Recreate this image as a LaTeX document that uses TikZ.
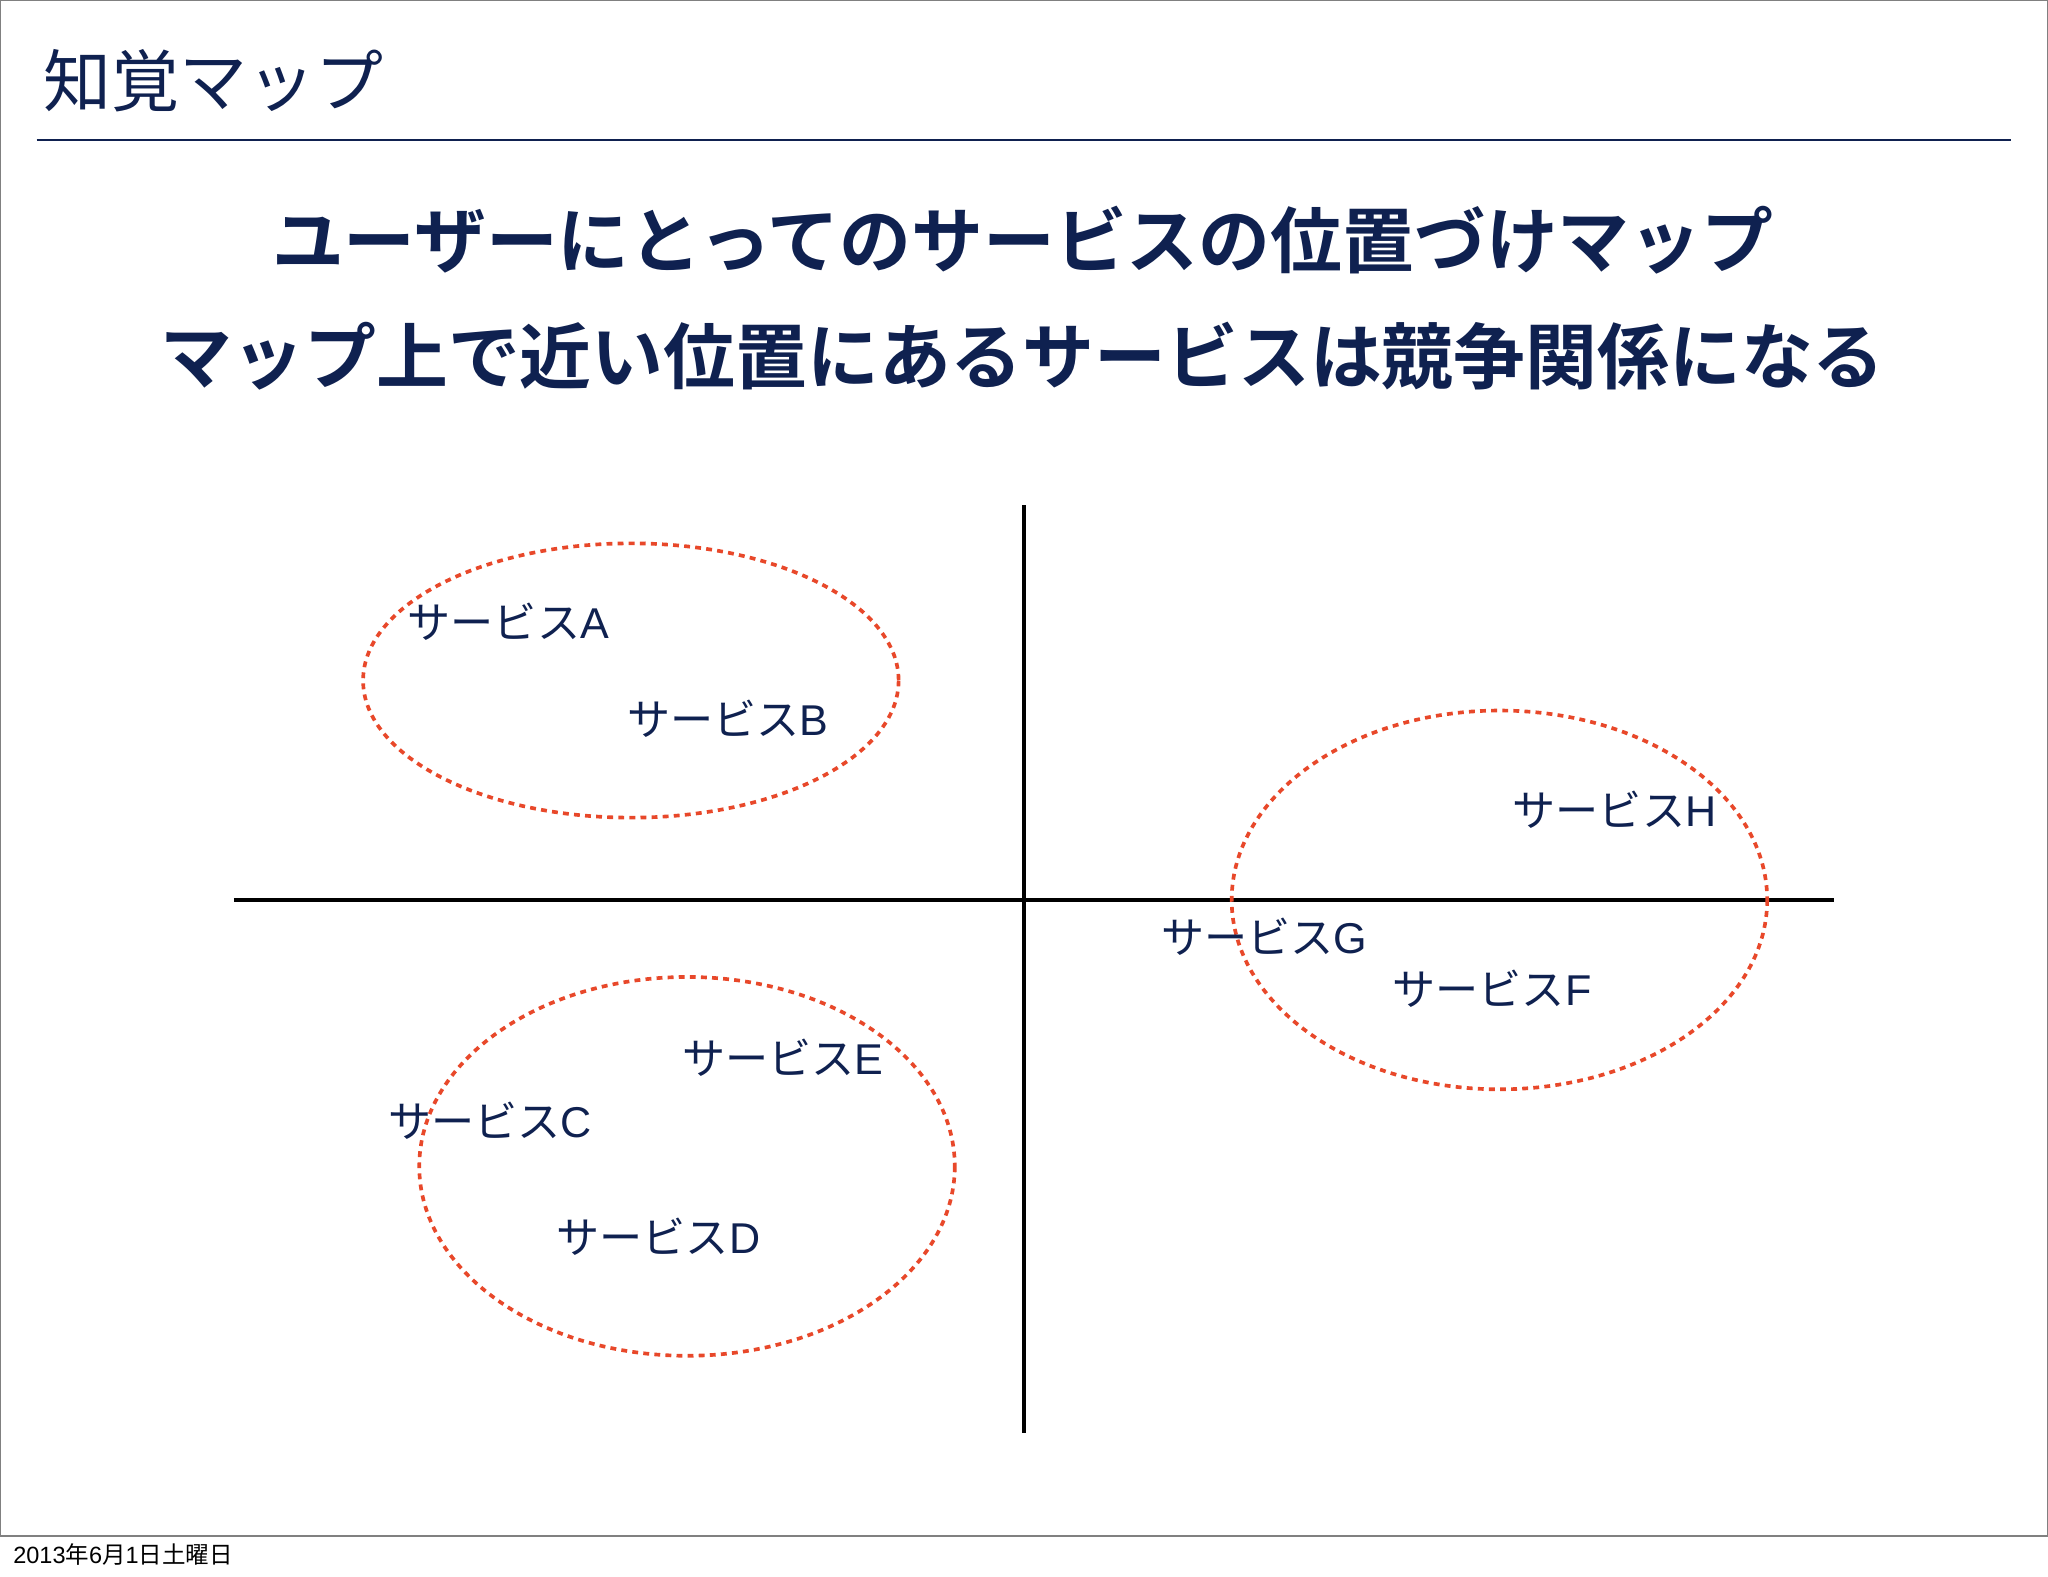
\documentclass[tikz,border=0pt]{standalone}
\usepackage{fontspec}
\newfontfamily\jp{Noto Sans CJK JP}
\newfontfamily\jpb{Noto Sans CJK JP Bold}
\newfontfamily\lat{Liberation Sans}
\definecolor{navy}{HTML}{0F2150}
\definecolor{ored}{HTML}{E8482A}
\newcommand{\svc}[1]{サービス{\lat #1}}
\begin{document}
\begin{tikzpicture}[x=1pt,y=-1pt,
  lbl/.style={anchor=west,inner sep=0pt,text=navy,font=\jp\fontsize{33}{36}\selectfont},
  grp/.style={draw=ored,line width=2.8pt,dash pattern=on 4.5pt off 4pt},
  axis/.style={line width=2.8pt,black}]
\fill[white] (0,0) rectangle (1568,1207);
\useasboundingbox (0,0) rectangle (1568,1207);
\draw[gray,line width=1pt] (0.5,0.5) rectangle (1567.5,1176);
\node[anchor=west,inner sep=0pt,text=navy,font=\jp\fontsize{52}{58}\selectfont] (title) at (33,62) {知覚マップ};
\coordinate (l1) at (28,107); \coordinate (l2) at (1540,107);
\draw[navy,line width=1.8pt] (l1) -- (l2);
\node[inner sep=0pt,text=navy,font=\jpb\fontsize{55}{60}\selectfont] (h1) at (783,184) {ユーザーにとってのサービスの位置づけマップ};
\node[inner sep=0pt,text=navy,font=\jpb\fontsize{55}{60}\selectfont] (h2) at (783,273) {マップ上で近い位置にあるサービスは競争関係になる};
\coordinate (vt) at (784,387); \coordinate (vb) at (784,1097);
\coordinate (hl) at (179,689); \coordinate (hr) at (1404,689);
\draw[axis] (vt) -- (vb);
\draw[axis] (hl) -- (hr);
\draw[grp] (483,521) ellipse [x radius=205, y radius=105];
\draw[grp] (526,893) ellipse [x radius=205, y radius=145];
\draw[grp] (1148,689) ellipse [x radius=205, y radius=145];
\node[lbl] (A) at (312,476) {\svc{A}};
\node[lbl] (B) at (480,550) {\svc{B}};
\node[lbl] (H) at (1158,620) {\svc{H}};
\node[lbl] (G) at (889,717) {\svc{G}};
\node[lbl] (F) at (1066,757) {\svc{F}};
\node[lbl] (E) at (522,810) {\svc{E}};
\node[lbl] (C) at (297,858) {\svc{C}};
\node[lbl] (D) at (426,947) {\svc{D}};
\node[anchor=west,inner sep=0pt,font=\jp\fontsize{18}{20}\selectfont] (date) at (10,1190) {{\lat 2013}年{\lat 6}月{\lat 1}日土曜日};
\end{tikzpicture}
\end{document}
